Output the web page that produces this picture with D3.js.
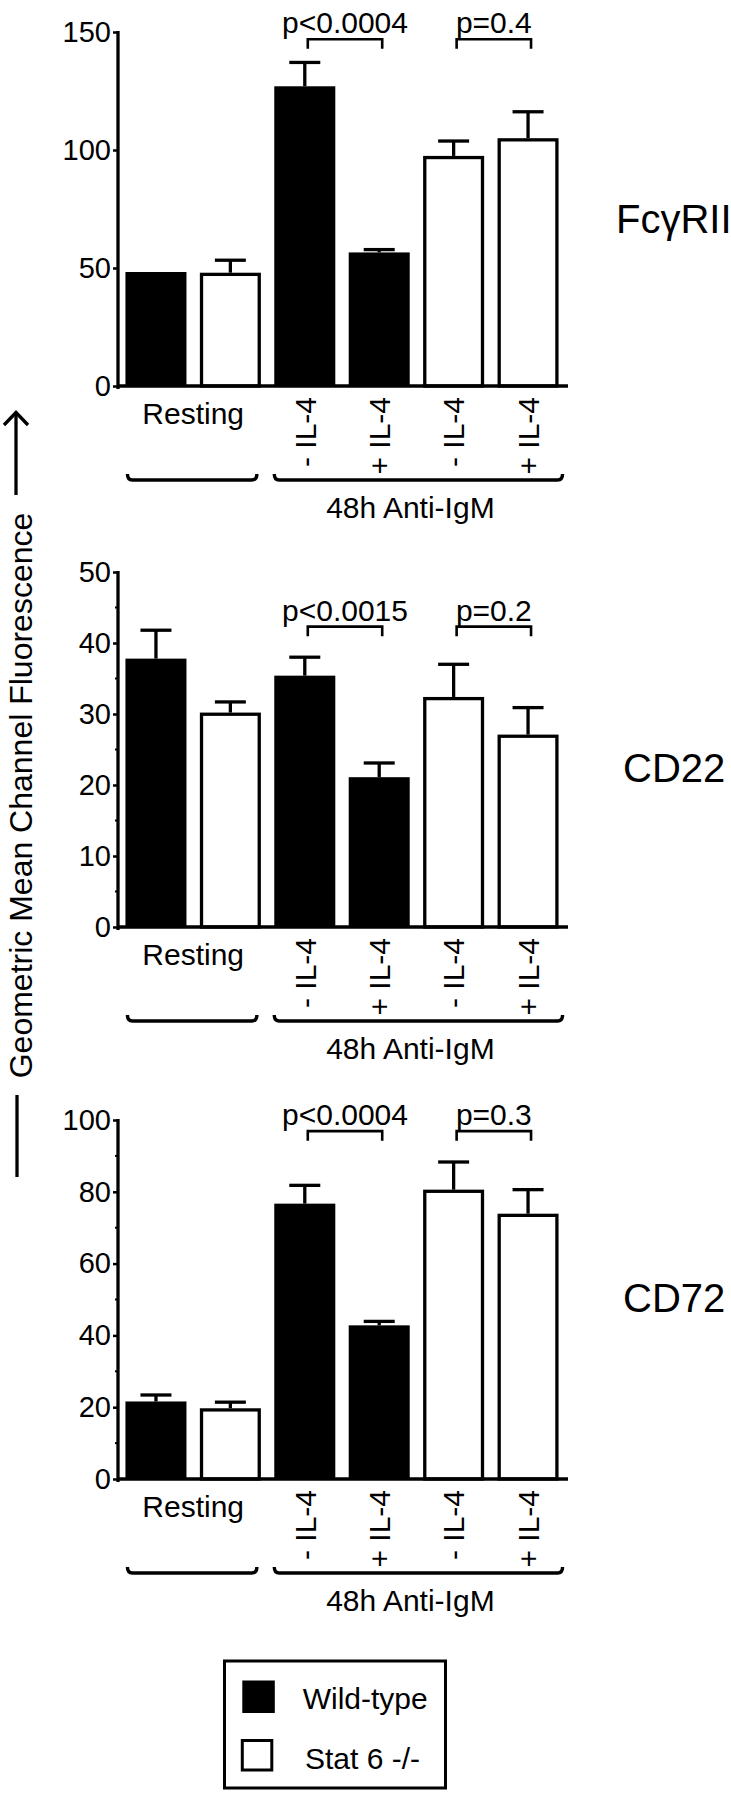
<!DOCTYPE html>
<html>
<head>
<meta charset="utf-8">
<script src="https://cdn.jsdelivr.net/npm/d3@7"></script>
<style>
  body { margin: 0; background: #fff; }
  svg { display: block; font-family: "Liberation Sans", Arial, Helvetica, sans-serif; }
</style>
</head>
<body>
<script>
// ---------------- data ----------------
const categories = ["wt-rest", "ko-rest", "wt-minus", "wt-plus", "ko-minus", "ko-plus"];
const genotype = ["Wild-type", "Stat 6 -/-", "Wild-type", "Wild-type", "Stat 6 -/-", "Stat 6 -/-"];
const panelLabels = ["Fc\u03B3RII", "CD22", "CD72"];

const fcgMeans = [48.3, 48.0, 127.0, 56.6, 97.5, 105.0];
const fcgErr   = [0.0, 5.3, 10.1, 1.2, 6.3, 11.2];
const cd22Means = [37.8, 30.2, 35.4, 21.1, 32.4, 27.1];
const cd22Err   = [4.0, 1.5, 2.6, 2.0, 4.6, 3.8];
const cd72Means = [21.6, 19.7, 76.7, 42.8, 80.6, 73.9];
const cd72Err   = [1.8, 1.7, 5.1, 1.1, 7.7, 6.7];

const yMax = [150, 50, 100];
const yTicks = [[0, 50, 100, 150], [0, 10, 20, 30, 40, 50], [0, 20, 40, 60, 80, 100]];
const yMinorTicks = [[], [5, 15, 25, 35, 45], [10, 30, 50, 70, 90]];

const pLabels = [["p<0.0004", "p=0.4"], ["p<0.0015", "p=0.2"], ["p<0.0004", "p=0.3"]];
const pPairs = [[2, 3], [4, 5]];
const bracketLevels = [146.9, 42.3, 96.9];

const treatmentLabels = ["- IL-4", "+ IL-4", "- IL-4", "+ IL-4"];
const groupLabels = ["Resting", "48h Anti-IgM"];
const legendLabels = ["Wild-type", "Stat 6 -/-"];
const yTitle = "Geometric Mean Channel Fluorescence";

const means = [fcgMeans, cd22Means, cd72Means];
const errs = [fcgErr, cd22Err, cd72Err];

// ---------------- layout ----------------
const panels = [
  { top: 32, zero: 386, lx: 616, ly: 233 },
  { top: 572, zero: 927, lx: 623, ly: 782 },
  { top: 1120, zero: 1479, lx: 623, ly: 1312 }
];
const axisX = 118;
const SW = 3.3;

const svg = d3.select("body").append("svg")
  .attr("width", 731).attr("height", 1800);

const x = d3.scaleBand().domain(categories).range([axisX, 566])
  .paddingInner(0.18).paddingOuter(0.1);
const bw = x.bandwidth();
const cx = c => x(c) + bw / 2;
const fillOf = g => g === "Wild-type" ? "#000" : "#fff";

panels.forEach((P, pi) => {
  const y = d3.scaleLinear().domain([0, yMax[pi]]).range([P.zero, P.top]);
  const g = svg.append("g");
  const rows = categories.map((c, i) => ({ c, g: genotype[i], v: means[pi][i], e: errs[pi][i] }));

  // bars
  g.selectAll("rect.bar").data(rows).join("rect")
    .attr("class", "bar")
    .attr("x", d => d.g === "Wild-type" ? x(d.c) : x(d.c) + SW / 2)
    .attr("y", d => d.g === "Wild-type" ? y(d.v) : y(d.v) + SW / 2)
    .attr("width", d => d.g === "Wild-type" ? bw : bw - SW)
    .attr("height", d => d.g === "Wild-type" ? P.zero - y(d.v) : P.zero - y(d.v) - SW / 2)
    .attr("fill", d => fillOf(d.g))
    .attr("stroke", d => d.g === "Wild-type" ? "none" : "#000")
    .attr("stroke-width", SW);

  // error bars (upper only)
  const er = rows.filter(d => d.e > 0);
  g.selectAll("line.err").data(er).join("line")
    .attr("class", "err")
    .attr("x1", d => cx(d.c)).attr("x2", d => cx(d.c))
    .attr("y1", d => y(d.v)).attr("y2", d => y(d.v + d.e))
    .attr("stroke", "#000").attr("stroke-width", SW);
  g.selectAll("line.cap").data(er).join("line")
    .attr("class", "cap")
    .attr("x1", d => cx(d.c) - 15.5).attr("x2", d => cx(d.c) + 15.5)
    .attr("y1", d => y(d.v + d.e)).attr("y2", d => y(d.v + d.e))
    .attr("stroke", "#000").attr("stroke-width", SW);

  // y axis
  const ax = g.append("g").attr("transform", `translate(${axisX},0)`)
    .call(d3.axisLeft(y).tickValues(yTicks[pi]).tickSize(5).tickSizeOuter(0).tickPadding(2));
  ax.select(".domain").remove();
  ax.selectAll(".tick line").attr("stroke", "#000").attr("stroke-width", 2.5);
  ax.selectAll(".tick text").attr("font-size", 29).attr("fill", "#000")
    .attr("font-family", "Liberation Sans, Arial, sans-serif");
  g.selectAll("line.minor").data(yMinorTicks[pi]).join("line")
    .attr("class", "minor")
    .attr("x1", axisX - 3).attr("x2", axisX)
    .attr("y1", d => y(d)).attr("y2", d => y(d))
    .attr("stroke", "#000").attr("stroke-width", 2);
  g.append("line")
    .attr("x1", axisX).attr("x2", axisX)
    .attr("y1", y(yMax[pi]) - 1).attr("y2", P.zero + 3)
    .attr("stroke", "#000").attr("stroke-width", SW);
  // x baseline
  g.append("line")
    .attr("x1", axisX).attr("x2", 568)
    .attr("y1", P.zero).attr("y2", P.zero)
    .attr("stroke", "#000").attr("stroke-width", 3.6);

  // p-value brackets
  pPairs.forEach((pr, k) => {
    const x1 = cx(categories[pr[0]]) + 3, x2 = cx(categories[pr[1]]) + 3;
    const yb = y(bracketLevels[pi]);
    g.append("path")
      .attr("d", `M${x1},${yb + 9.5}V${yb}H${x2}V${yb + 9.5}`)
      .attr("fill", "none").attr("stroke", "#000").attr("stroke-width", 2.6);
    g.append("text")
      .attr("x", (x1 + x2) / 2).attr("y", yb - 6)
      .attr("text-anchor", "middle").attr("font-size", 30)
      .text(pLabels[pi][k]);
  });

  // category labels
  const restCenter = (x(categories[0]) + x(categories[1]) + bw) / 2;
  g.append("text")
    .attr("x", restCenter).attr("y", P.zero + 38)
    .attr("text-anchor", "middle").attr("font-size", 30)
    .text(groupLabels[0]);
  treatmentLabels.forEach((t, k) => {
    g.append("text")
      .attr("transform", `translate(${cx(categories[k + 2])},${P.zero + 11}) rotate(-90)`)
      .attr("text-anchor", "end").attr("dy", "0.36em").attr("font-size", 30)
      .text(t);
  });

  // group brackets
  const by = P.zero + 94;
  const gb = (a, b) => `M${a},${by - 6}Q${a},${by} ${a + 5},${by}L${b - 5},${by}Q${b},${by} ${b},${by - 6}`;
  g.append("path").attr("d", gb(x(categories[0]) + 2, x(categories[1]) + bw - 4))
    .attr("fill", "none").attr("stroke", "#000").attr("stroke-width", 3.4);
  g.append("path").attr("d", gb(x(categories[2]), x(categories[5]) + bw + 4))
    .attr("fill", "none").attr("stroke", "#000").attr("stroke-width", 3.4);
  g.append("text")
    .attr("x", (x(categories[2]) + x(categories[5]) + bw) / 2 - 6).attr("y", P.zero + 132)
    .attr("text-anchor", "middle").attr("font-size", 30)
    .text(groupLabels[1]);

  // panel label
  g.append("text")
    .attr("x", P.lx).attr("y", P.ly)
    .attr("font-size", 40)
    .text(panelLabels[pi]);
});

// y-axis title with arrow
svg.append("text")
  .attr("transform", "translate(32,795.5) rotate(-90)")
  .attr("text-anchor", "middle").attr("font-size", 32)
  .text(yTitle);
svg.append("line").attr("x1", 16).attr("x2", 16).attr("y1", 495).attr("y2", 413)
  .attr("stroke", "#000").attr("stroke-width", SW);
svg.append("path").attr("d", "M4,425L16,412.5L28,425")
  .attr("fill", "none").attr("stroke", "#000").attr("stroke-width", SW);
svg.append("line").attr("x1", 17).attr("x2", 17).attr("y1", 1095).attr("y2", 1177)
  .attr("stroke", "#000").attr("stroke-width", SW);

// legend
const lg = svg.append("g");
lg.append("rect").attr("x", 224.5).attr("y", 1661).attr("width", 221).attr("height", 127)
  .attr("fill", "#fff").attr("stroke", "#000").attr("stroke-width", 3);
lg.selectAll("rect.sw").data(legendLabels).join("rect")
  .attr("class", "sw")
  .attr("x", 242.3)
  .attr("y", (d, i) => i === 0 ? 1680.5 : 1740.5)
  .attr("width", (d, i) => i === 0 ? 32.5 : 29.5)
  .attr("height", (d, i) => i === 0 ? 32.5 : 29.5)
  .attr("fill", d => fillOf(d))
  .attr("stroke", (d, i) => i === 0 ? "none" : "#000")
  .attr("stroke-width", 3);
lg.selectAll("text").data(legendLabels).join("text")
  .attr("x", (d, i) => i === 0 ? 302.7 : 305)
  .attr("y", (d, i) => i === 0 ? 1709 : 1769.4)
  .attr("font-size", 30)
  .text(d => d);
</script>
</body>
</html>
